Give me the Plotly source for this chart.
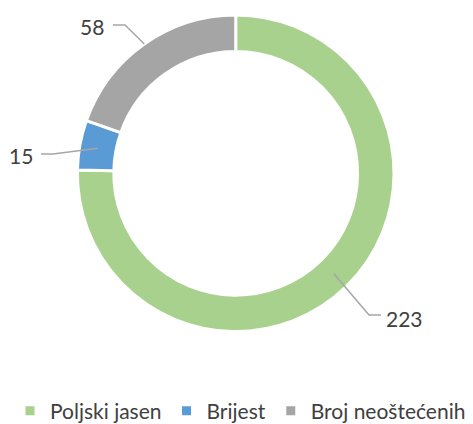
import math
import plotly.graph_objects as go

categories = ["Poljski jasen", "Brijest", "Broj neoštećenih"]
values = [223, 15, 58]
colors = ["#A9D18E", "#5B9BD5", "#A5A5A5"]

# window size and page offset (default body margin)
W, H = 473, 424
OFF = 8
FW, FH = W - OFF, H - OFF

# target geometry in window pixels
CX, CY, R = 235.7, 173.3, 158.3
HOLE = 0.77

def px(x):
    return (x - OFF) / FW

def py(y):
    return (H - y) / FH

fig = go.Figure(go.Pie(
    labels=categories,
    values=values,
    marker=dict(colors=colors, line=dict(color="white", width=3)),
    hole=HOLE,
    sort=False,
    direction="clockwise",
    rotation=0,
    textinfo="none",
    hoverinfo="label+value",
    domain=dict(x=[px(CX - R), px(CX + R)], y=[py(CY + R), py(CY - R)]),
))

# leader-line geometry: start radius fraction, elbow point, end point, text anchor
leader = {
    0: dict(r=0.885, elbow=(369, 315), end=(381, 315), text=(384, 318), anchor="left"),
    1: dict(r=0.885, elbow=(53, 154), end=(41, 154), text=(35, 156), anchor="right"),
    2: dict(r=1.0, elbow=(125, 25), end=(113, 25), text=(106, 27), anchor="right"),
}

total = sum(values)
cum = 0
shapes = []
annotations = []
for i, v in enumerate(values):
    mid = (cum + v / 2) / total * 2 * math.pi
    cum += v
    L = leader[i]
    rr = R * L["r"]
    sx = CX + rr * math.sin(mid)
    sy = CY - rr * math.cos(mid)
    ex, ey = L["elbow"]
    fx, fy = L["end"]
    path = f"M {px(sx)},{py(sy)} L {px(ex)},{py(ey)} L {px(fx)},{py(fy)}"
    shapes.append(dict(type="path", xref="paper", yref="paper", path=path,
                       line=dict(color="#A6A6A6", width=1.5)))
    tx, ty = L["text"]
    annotations.append(dict(x=px(tx), y=py(ty), xref="paper", yref="paper",
                            text=str(v), showarrow=False, xanchor=L["anchor"],
                            yanchor="middle",
                            font=dict(family="Lato, sans-serif", size=21, color="#404040")))

fig.update_layout(
    width=FW, height=FH,
    margin=dict(l=0, r=0, t=0, b=0, autoexpand=False),
    paper_bgcolor="white",
    plot_bgcolor="white",
    shapes=shapes,
    annotations=annotations,
    showlegend=True,
    legend=dict(orientation="h", x=0.5, xanchor="center", y=py(411), yanchor="middle",
                font=dict(family="Lato, sans-serif", size=21, color="#404040"),
                itemwidth=30, tracegroupgap=0),
)

fig.write_html("out.html")
